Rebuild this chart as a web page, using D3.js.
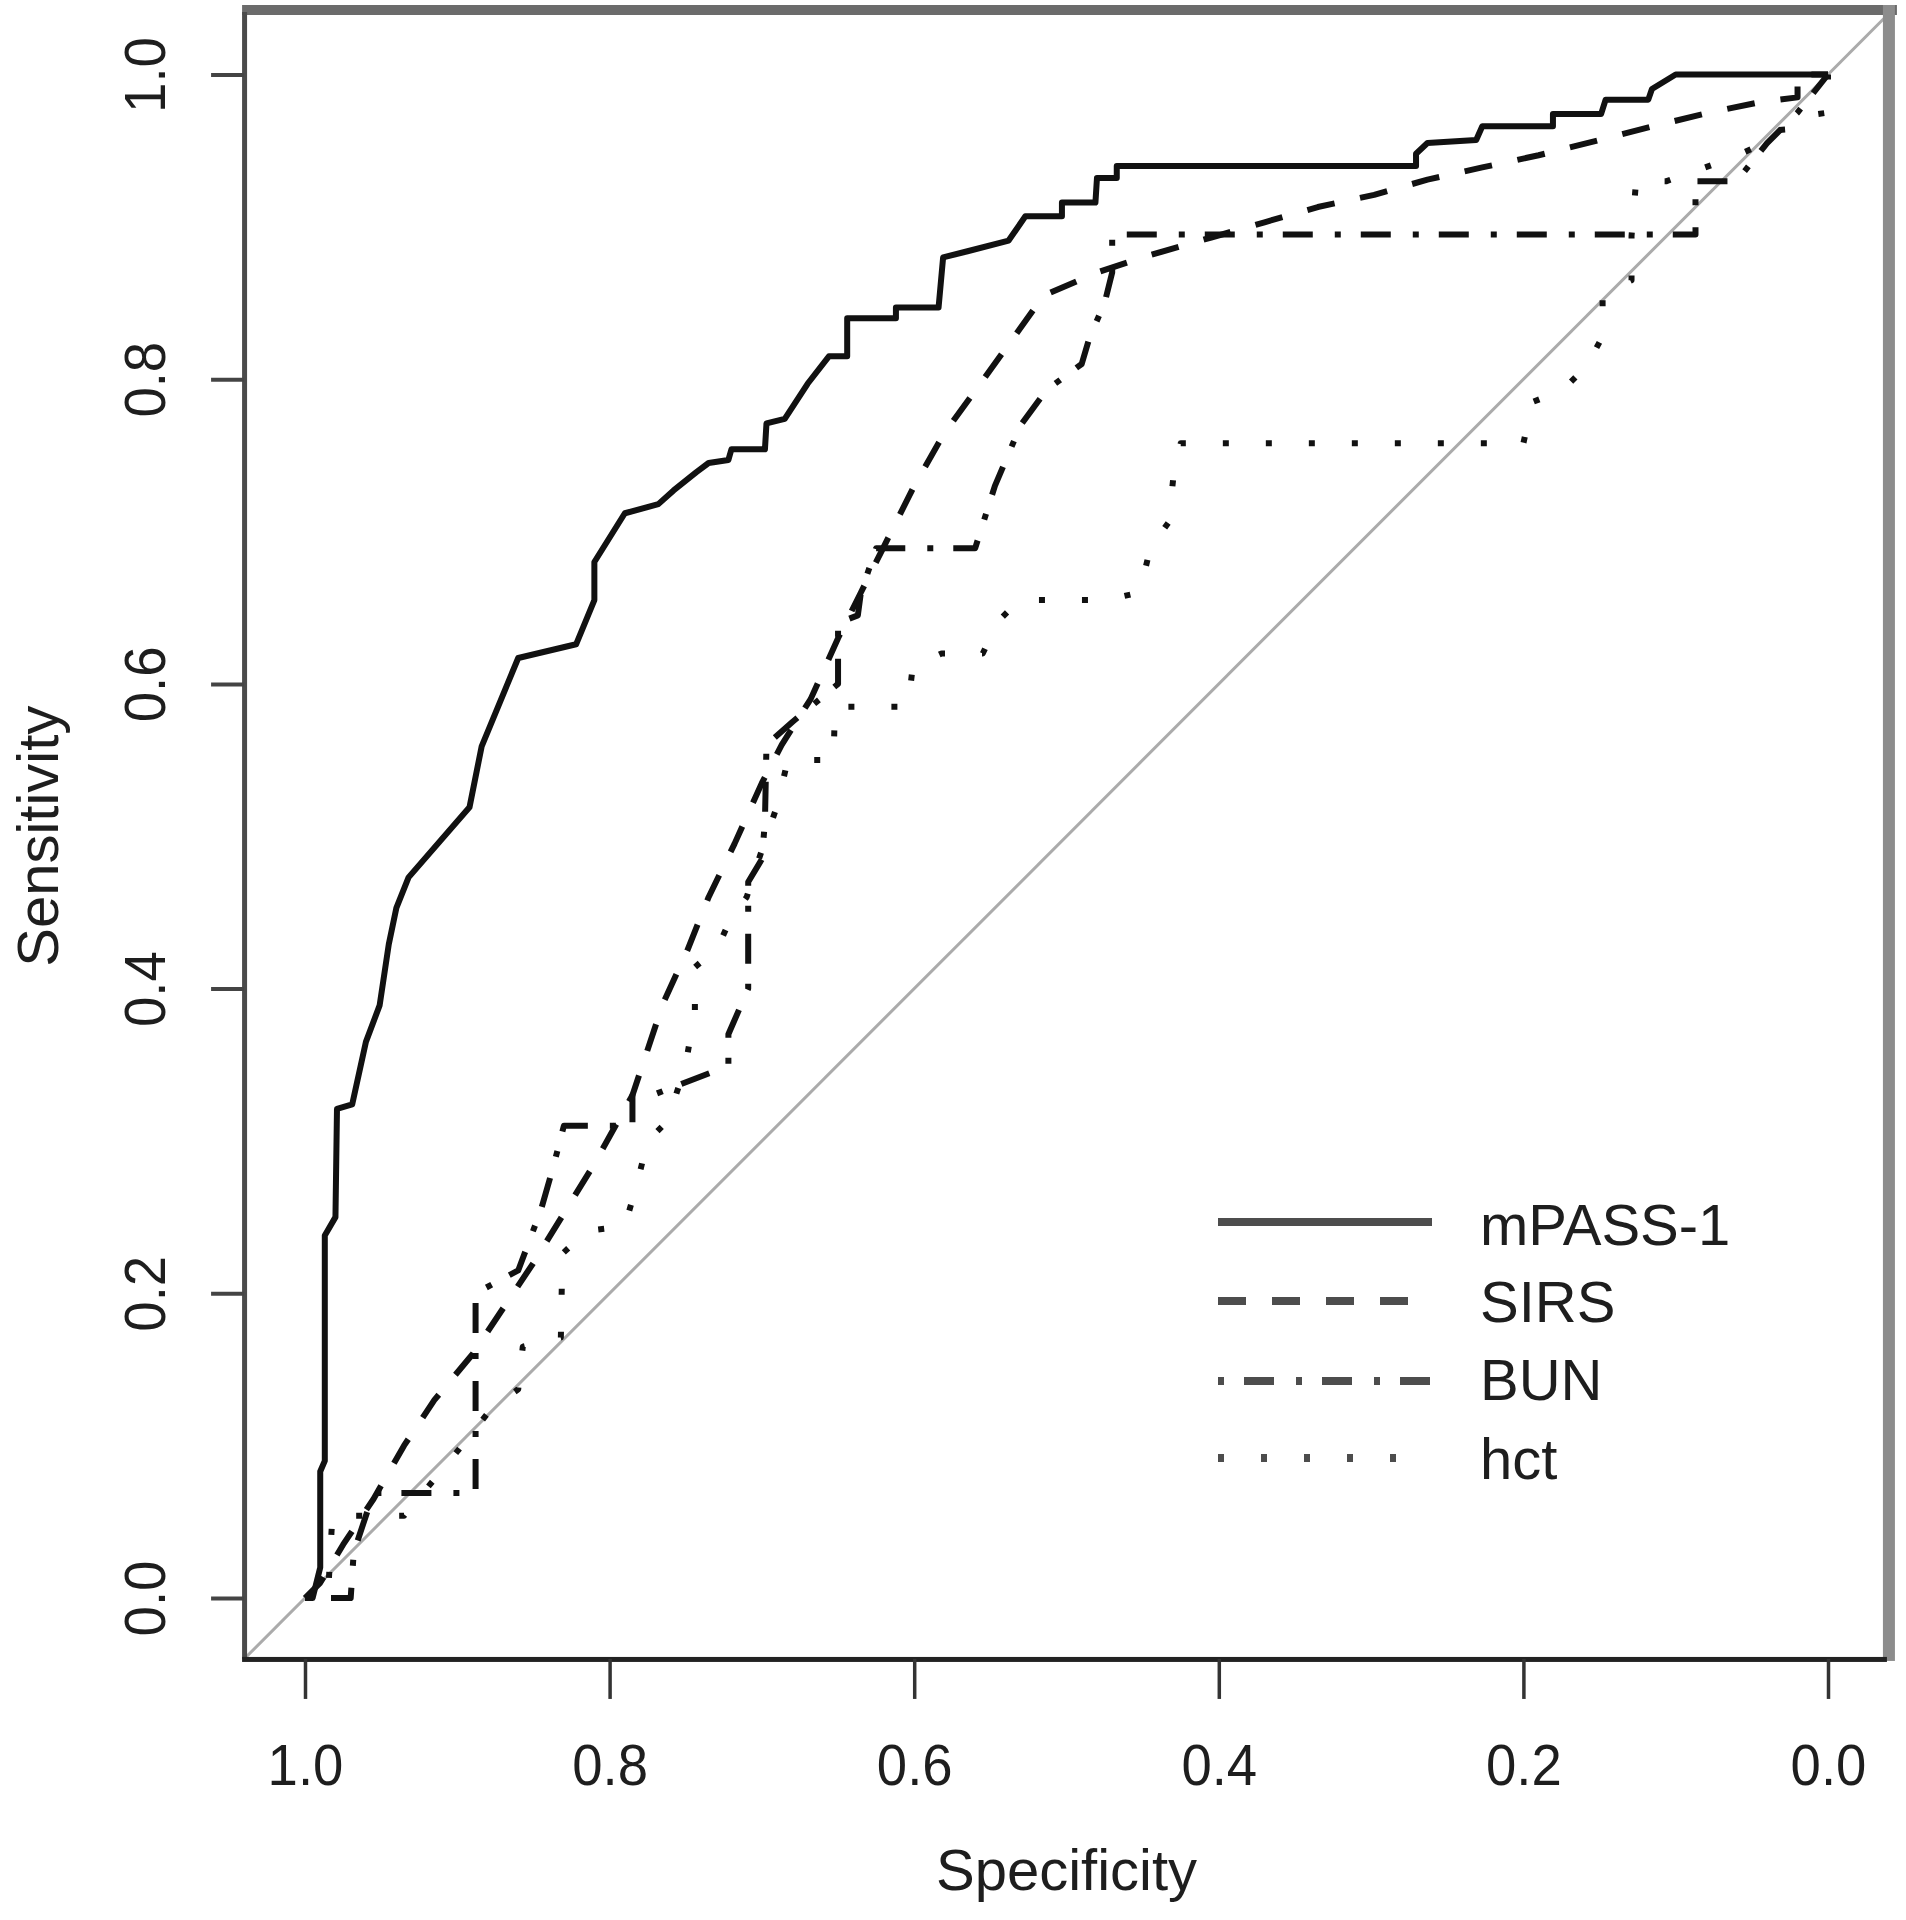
<!DOCTYPE html>
<html>
<head>
<meta charset="utf-8">
<script src="https://cdn.jsdelivr.net/npm/d3@7"></script>
<style>
  html, body { margin: 0; padding: 0; background: #ffffff; }
  svg { display: block; }
  text { font-family: "Liberation Sans", Arial, Helvetica, sans-serif; fill: #1e1e1e; }
</style>
</head>
<body>
<svg id="chart" width="1906" height="1920"></svg>
<script>
// ---- data (specificity, sensitivity) ----
const seriesNames = ["mPASS-1", "SIRS", "BUN", "hct"];
const xTicks = [1.0, 0.8, 0.6, 0.4, 0.2, 0.0];
const yTicks = [0.0, 0.2, 0.4, 0.6, 0.8, 1.0];
const xTitle = "Specificity";
const yTitle = "Sensitivity";

const mpass1 = [[1,0],[0.995,0],[0.99,0.02],[0.99,0.083],[0.987,0.09],[0.987,0.238],[0.98,0.25],[0.979,0.321],[0.969,0.324],[0.96,0.365],[0.951,0.389],[0.945,0.429],[0.94,0.453],[0.932,0.473],[0.892,0.519],[0.884,0.559],[0.86,0.617],[0.822,0.626],[0.81,0.655],[0.81,0.68],[0.79,0.712],[0.768,0.718],[0.758,0.727],[0.743,0.739],[0.735,0.745],[0.722,0.747],[0.72,0.754],[0.698,0.754],[0.697,0.771],[0.685,0.774],[0.67,0.797],[0.656,0.815],[0.644,0.815],[0.644,0.84],[0.612,0.84],[0.612,0.847],[0.584,0.847],[0.581,0.88],[0.565,0.884],[0.538,0.891],[0.527,0.907],[0.503,0.907],[0.503,0.916],[0.481,0.916],[0.48,0.932],[0.467,0.932],[0.467,0.94],[0.2705,0.94],[0.2705,0.948],[0.263,0.955],[0.231,0.957],[0.227,0.966],[0.1806,0.966],[0.1806,0.974],[0.149,0.974],[0.146,0.9835],[0.118,0.9835],[0.1156,0.9905],[0.10,1.0],[0,1]];

const sirs = [[1,0],[0.99,0.01],[0.975,0.035],[0.955,0.065],[0.935,0.10],[0.915,0.13],[0.89,0.16],[0.87,0.19],[0.85,0.22],[0.81,0.285],[0.785,0.33],[0.765,0.39],[0.749,0.425],[0.735,0.46],[0.718,0.495],[0.70,0.535],[0.687,0.56],[0.668,0.59],[0.65,0.63],[0.635,0.66],[0.62,0.69],[0.60,0.73],[0.58,0.765],[0.558,0.795],[0.54,0.82],[0.515,0.855],[0.48,0.87],[0.45,0.88],[0.405,0.893],[0.37,0.903],[0.335,0.913],[0.298,0.921],[0.263,0.931],[0.227,0.939],[0.19,0.947],[0.15,0.957],[0.115,0.966],[0.078,0.975],[0.044,0.982],[0.02,0.985],[0.02,1.0],[0,1]];

const bun = [[1,0],[0.97,0],[0.968,0.03],[0.955,0.069],[0.888,0.069],[0.888,0.2],[0.86,0.215],[0.845,0.255],[0.837,0.283],[0.83,0.31],[0.785,0.31],[0.785,0.33],[0.772,0.33],[0.733,0.345],[0.722,0.35],[0.722,0.37],[0.709,0.40],[0.709,0.47],[0.70,0.485],[0.698,0.51],[0.697,0.56],[0.68,0.575],[0.65,0.60],[0.65,0.64],[0.637,0.645],[0.635,0.66],[0.625,0.689],[0.56,0.689],[0.547,0.73],[0.53,0.77],[0.513,0.793],[0.49,0.81],[0.485,0.827],[0.475,0.85],[0.47,0.87],[0.47,0.895],[0.087,0.895],[0.087,0.93],[0.06,0.93],[0.04,0.955],[0.02,0.975],[0,1]];

const hct = [[1,0],[0.985,0],[0.982,0.054],[0.935,0.054],[0.905,0.09],[0.877,0.125],[0.86,0.137],[0.857,0.165],[0.832,0.171],[0.831,0.226],[0.815,0.241],[0.79,0.244],[0.782,0.272],[0.775,0.3],[0.762,0.313],[0.75,0.35],[0.744,0.386],[0.744,0.414],[0.729,0.427],[0.72,0.447],[0.71,0.46],[0.702,0.485],[0.69,0.52],[0.683,0.55],[0.653,0.55],[0.652,0.585],[0.604,0.585],[0.601,0.611],[0.582,0.62],[0.555,0.62],[0.545,0.641],[0.531,0.655],[0.474,0.655],[0.452,0.66],[0.445,0.689],[0.433,0.706],[0.43,0.734],[0.425,0.758],[0.2,0.758],[0.194,0.785],[0.174,0.793],[0.159,0.808],[0.148,0.828],[0.148,0.856],[0.129,0.865],[0.129,0.894],[0.126,0.93],[0.106,0.93],[0.064,0.945],[0.046,0.953],[0.039,0.963],[0.026,0.964],[0.007,0.974],[0,0.975],[0,1]];

const diagonal = [[1.04,-0.04],[-0.04,1.04]];

// ---- layout / style ----
const svg = d3.select("#chart");
const x = d3.scaleLinear().domain([1, 0]).range([305, 1828]);
const y = d3.scaleLinear().domain([0, 1]).range([1598, 74.5]);
const pLeft = x(1.04), pRight = x(-0.04), pTop = y(1.04), pBottom = y(-0.04);

const styles = [
  { data: mpass1, dash: null },
  { data: sirs,   dash: "28,26" },
  { data: bun,    dash: "6,20,30,22" },
  { data: hct,    dash: "6,37" }
];

const line = d3.line().x(d => x(d[0])).y(d => y(d[1]));

// diagonal reference line
svg.append("path").datum(diagonal).attr("d", line)
  .attr("fill", "none").attr("stroke", "#ababab").attr("stroke-width", 3);

// curves
styles.forEach(s => {
  svg.append("path").datum(s.data).attr("d", line)
    .attr("fill", "none").attr("stroke", "#111")
    .attr("stroke-width", 6)
    .attr("stroke-linejoin", "round")
    .attr("stroke-linecap", "butt")
    .attr("stroke-dasharray", s.dash);
});

// frame (scan-like borders)
svg.append("rect").attr("x", pLeft - 2).attr("y", 5).attr("width", pRight - pLeft + 10).attr("height", 10).attr("fill", "#6b6b6b");
svg.append("rect").attr("x", pRight - 6).attr("y", 5).attr("width", 12).attr("height", pBottom - 3).attr("fill", "#8c8c8c");
svg.append("rect").attr("x", pLeft - 2).attr("y", 12).attr("width", 5).attr("height", pBottom - 12).attr("fill", "#4a4a4a");
svg.append("rect").attr("x", pLeft - 2).attr("y", pBottom - 2).attr("width", pRight - pLeft).attr("height", 5).attr("fill", "#222");

// x axis
const gx = svg.append("g").attr("transform", `translate(0,${pBottom})`)
  .call(d3.axisBottom(x).tickValues(xTicks).tickSize(40).tickFormat(d3.format(".1f")));
gx.select(".domain").remove();
gx.selectAll(".tick line").attr("stroke", "#333").attr("stroke-width", 3.5);
gx.selectAll(".tick text").attr("y", 126).attr("dy", 0)
  .attr("transform", "scale(0.94,1)")
  .style("font-size", "58px").style("fill", "#1e1e1e")
  .style("font-family", "'Liberation Sans', Arial, sans-serif");

// y axis
const gy = svg.append("g").attr("transform", `translate(${pLeft},0)`)
  .call(d3.axisLeft(y).tickValues(yTicks).tickSize(33).tickFormat(d3.format(".1f")));
gy.select(".domain").remove();
gy.selectAll(".tick line").attr("stroke", "#444").attr("stroke-width", 4);
gy.selectAll(".tick text").attr("x", 0).attr("y", 0).attr("dy", 0)
  .attr("text-anchor", "middle")
  .attr("transform", `translate(${165 - pLeft},0) rotate(-90) scale(0.94,1)`)
  .style("font-size", "58px").style("fill", "#1e1e1e")
  .style("font-family", "'Liberation Sans', Arial, sans-serif");

// axis titles
svg.append("text").attr("x", (pLeft + pRight) / 2).attr("y", 1890)
  .attr("text-anchor", "middle").style("font-size", "58px").text(xTitle);
svg.append("text").attr("transform", `translate(58,${(pTop + pBottom) / 2}) rotate(-90)`)
  .attr("text-anchor", "middle").style("font-size", "58px").text(yTitle);

// legend
const legY = [1222, 1301, 1381, 1458];
const legBase = [1245, 1322, 1400, 1479];
const leg = svg.append("g");
seriesNames.forEach((name, i) => {
  leg.append("line").attr("x1", 1218).attr("x2", 1432)
    .attr("y1", legY[i]).attr("y2", legY[i])
    .attr("stroke", "#4d4d4d").attr("stroke-width", 8)
    .attr("stroke-dasharray", styles[i].dash);
  leg.append("text").attr("x", 1480).attr("y", legBase[i])
    .style("font-size", "58px").text(name);
});
</script>
</body>
</html>
